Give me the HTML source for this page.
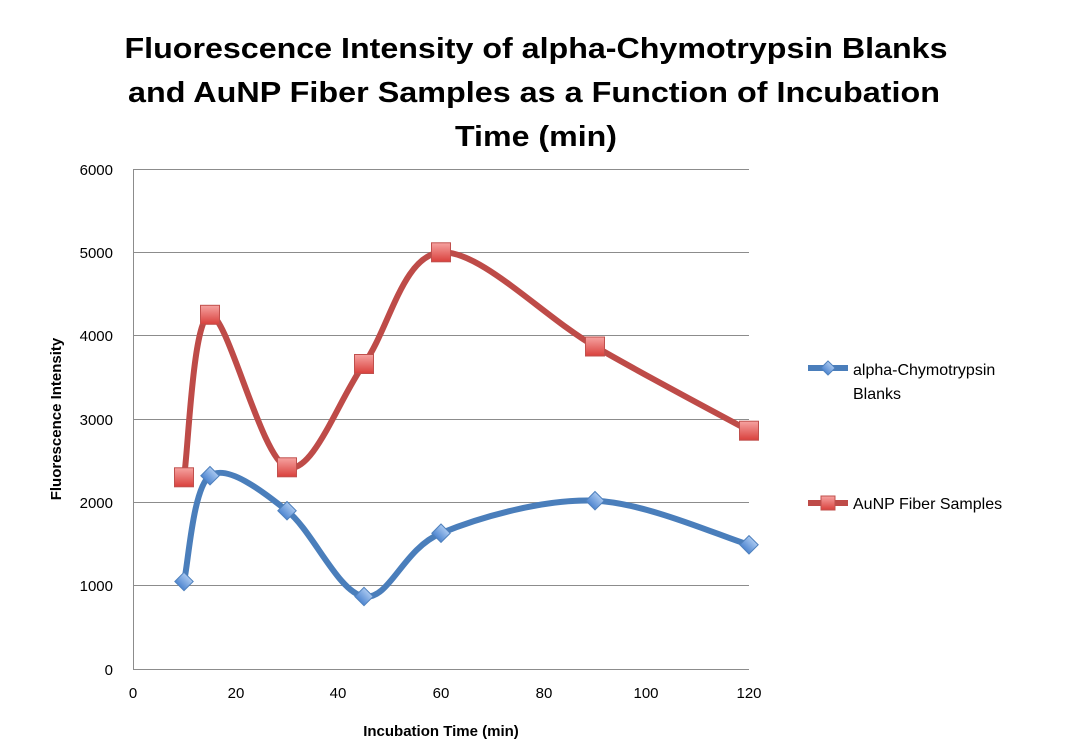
<!DOCTYPE html>
<html><head><meta charset="utf-8"><style>html,body{margin:0;padding:0;background:#fff}svg{display:block}</style></head>
<body>
<svg id="s" width="1073" height="749" xmlns="http://www.w3.org/2000/svg" font-family="Liberation Sans, sans-serif">
<defs>
<linearGradient id="rg" x1="0" y1="0" x2="0" y2="1"><stop offset="0" stop-color="#f6a3a1"/><stop offset="1" stop-color="#d9403c"/></linearGradient>
<linearGradient id="bg" x1="0" y1="0" x2="0" y2="1"><stop offset="0" stop-color="#a9c8f0"/><stop offset="1" stop-color="#4f86d0"/></linearGradient>
</defs>
<g font-weight="bold" font-size="29" fill="#000" text-anchor="middle">
<text x="536" y="58" textLength="823" lengthAdjust="spacingAndGlyphs">Fluorescence Intensity of alpha-Chymotrypsin Blanks</text>
<text x="534" y="102" textLength="812" lengthAdjust="spacingAndGlyphs">and AuNP Fiber Samples as a Function of Incubation</text>
<text x="536" y="146" textLength="162" lengthAdjust="spacingAndGlyphs">Time (min)</text>
</g>
<g stroke="#8c8c8c" stroke-width="1">
<line x1="133" y1="169.5" x2="749" y2="169.5"/>
<line x1="133" y1="252.5" x2="749" y2="252.5"/>
<line x1="133" y1="335.5" x2="749" y2="335.5"/>
<line x1="133" y1="419.5" x2="749" y2="419.5"/>
<line x1="133" y1="502.5" x2="749" y2="502.5"/>
<line x1="133" y1="585.5" x2="749" y2="585.5"/>
<line x1="133" y1="669.5" x2="749" y2="669.5"/>
<line x1="133.5" y1="169" x2="133.5" y2="669"/>
</g>
<g font-size="15" text-anchor="end" fill="#000">
<text x="113" y="175">6000</text><text x="113" y="258">5000</text><text x="113" y="341">4000</text>
<text x="113" y="425">3000</text><text x="113" y="508">2000</text><text x="113" y="591">1000</text><text x="113" y="675">0</text>
</g>
<g font-size="15" text-anchor="middle" fill="#000">
<text x="133" y="698">0</text><text x="236" y="698">20</text><text x="338" y="698">40</text><text x="441" y="698">60</text>
<text x="544" y="698">80</text><text x="646" y="698">100</text><text x="749" y="698">120</text>
</g>
<text x="441" y="736" font-size="15" font-weight="bold" text-anchor="middle">Incubation Time (min)</text>
<text transform="translate(61,419) rotate(-90)" font-size="15" font-weight="bold" text-anchor="middle">Fluorescence Intensity</text>
<path id="pb" fill="none" stroke="#4a7ebb" stroke-width="6" stroke-linejoin="round"/>
<path id="pr" fill="none" stroke="#be4b48" stroke-width="6" stroke-linejoin="round"/>
<g id="mk"></g>
<line x1="808" y1="368" x2="848" y2="368" stroke="#4a7ebb" stroke-width="6"/>
<rect x="823" y="363" width="10" height="10" transform="rotate(45 828 368)" fill="url(#bg)" stroke="#4f81bd"/>
<text x="853" y="375" font-size="16">alpha-Chymotrypsin</text>
<text x="853" y="399" font-size="16">Blanks</text>
<line x1="808" y1="503" x2="848" y2="503" stroke="#be4b48" stroke-width="6"/>
<rect x="821" y="496" width="14" height="14" fill="url(#rg)" stroke="#c0504d"/>
<text x="853" y="509" font-size="16">AuNP Fiber Samples</text>
</svg>
<script>
var xs=[184,210,287,364,441,595,749];
var b=[581.5,475.7,510.7,596.5,533.2,500.7,544.8];
var r=[477.3,314.8,467.3,364,252.3,346.5,430.7];
function path(ys){var p=xs.map(function(x,i){return [x,ys[i]]});var d="M"+p[0][0]+","+p[0][1];
for(var i=0;i<p.length-1;i++){var p0=p[i-1]||p[i],p1=p[i],p2=p[i+1],p3=p[i+2]||p2;
d+=" C"+(p1[0]+(p2[0]-p0[0])/6)+","+(p1[1]+(p2[1]-p0[1])/6)+" "+(p2[0]-(p3[0]-p1[0])/6)+","+(p2[1]-(p3[1]-p1[1])/6)+" "+p2[0]+","+p2[1];}
return d;}
document.getElementById("pb").setAttribute("d",path(b));
document.getElementById("pr").setAttribute("d",path(r));
var g=document.getElementById("mk"),h="";
xs.forEach(function(x,i){
h+='<rect x="'+(x-9.5)+'" y="'+(r[i]-9.5)+'" width="19" height="19" fill="url(#rg)" stroke="#c0504d"/>';
h+='<rect x="'+(x-6.5)+'" y="'+(b[i]-6.5)+'" width="13" height="13" transform="rotate(45 '+x+' '+b[i]+')" fill="url(#bg)" stroke="#4f81bd"/>';});
g.innerHTML=h;
</script>
</body></html>
